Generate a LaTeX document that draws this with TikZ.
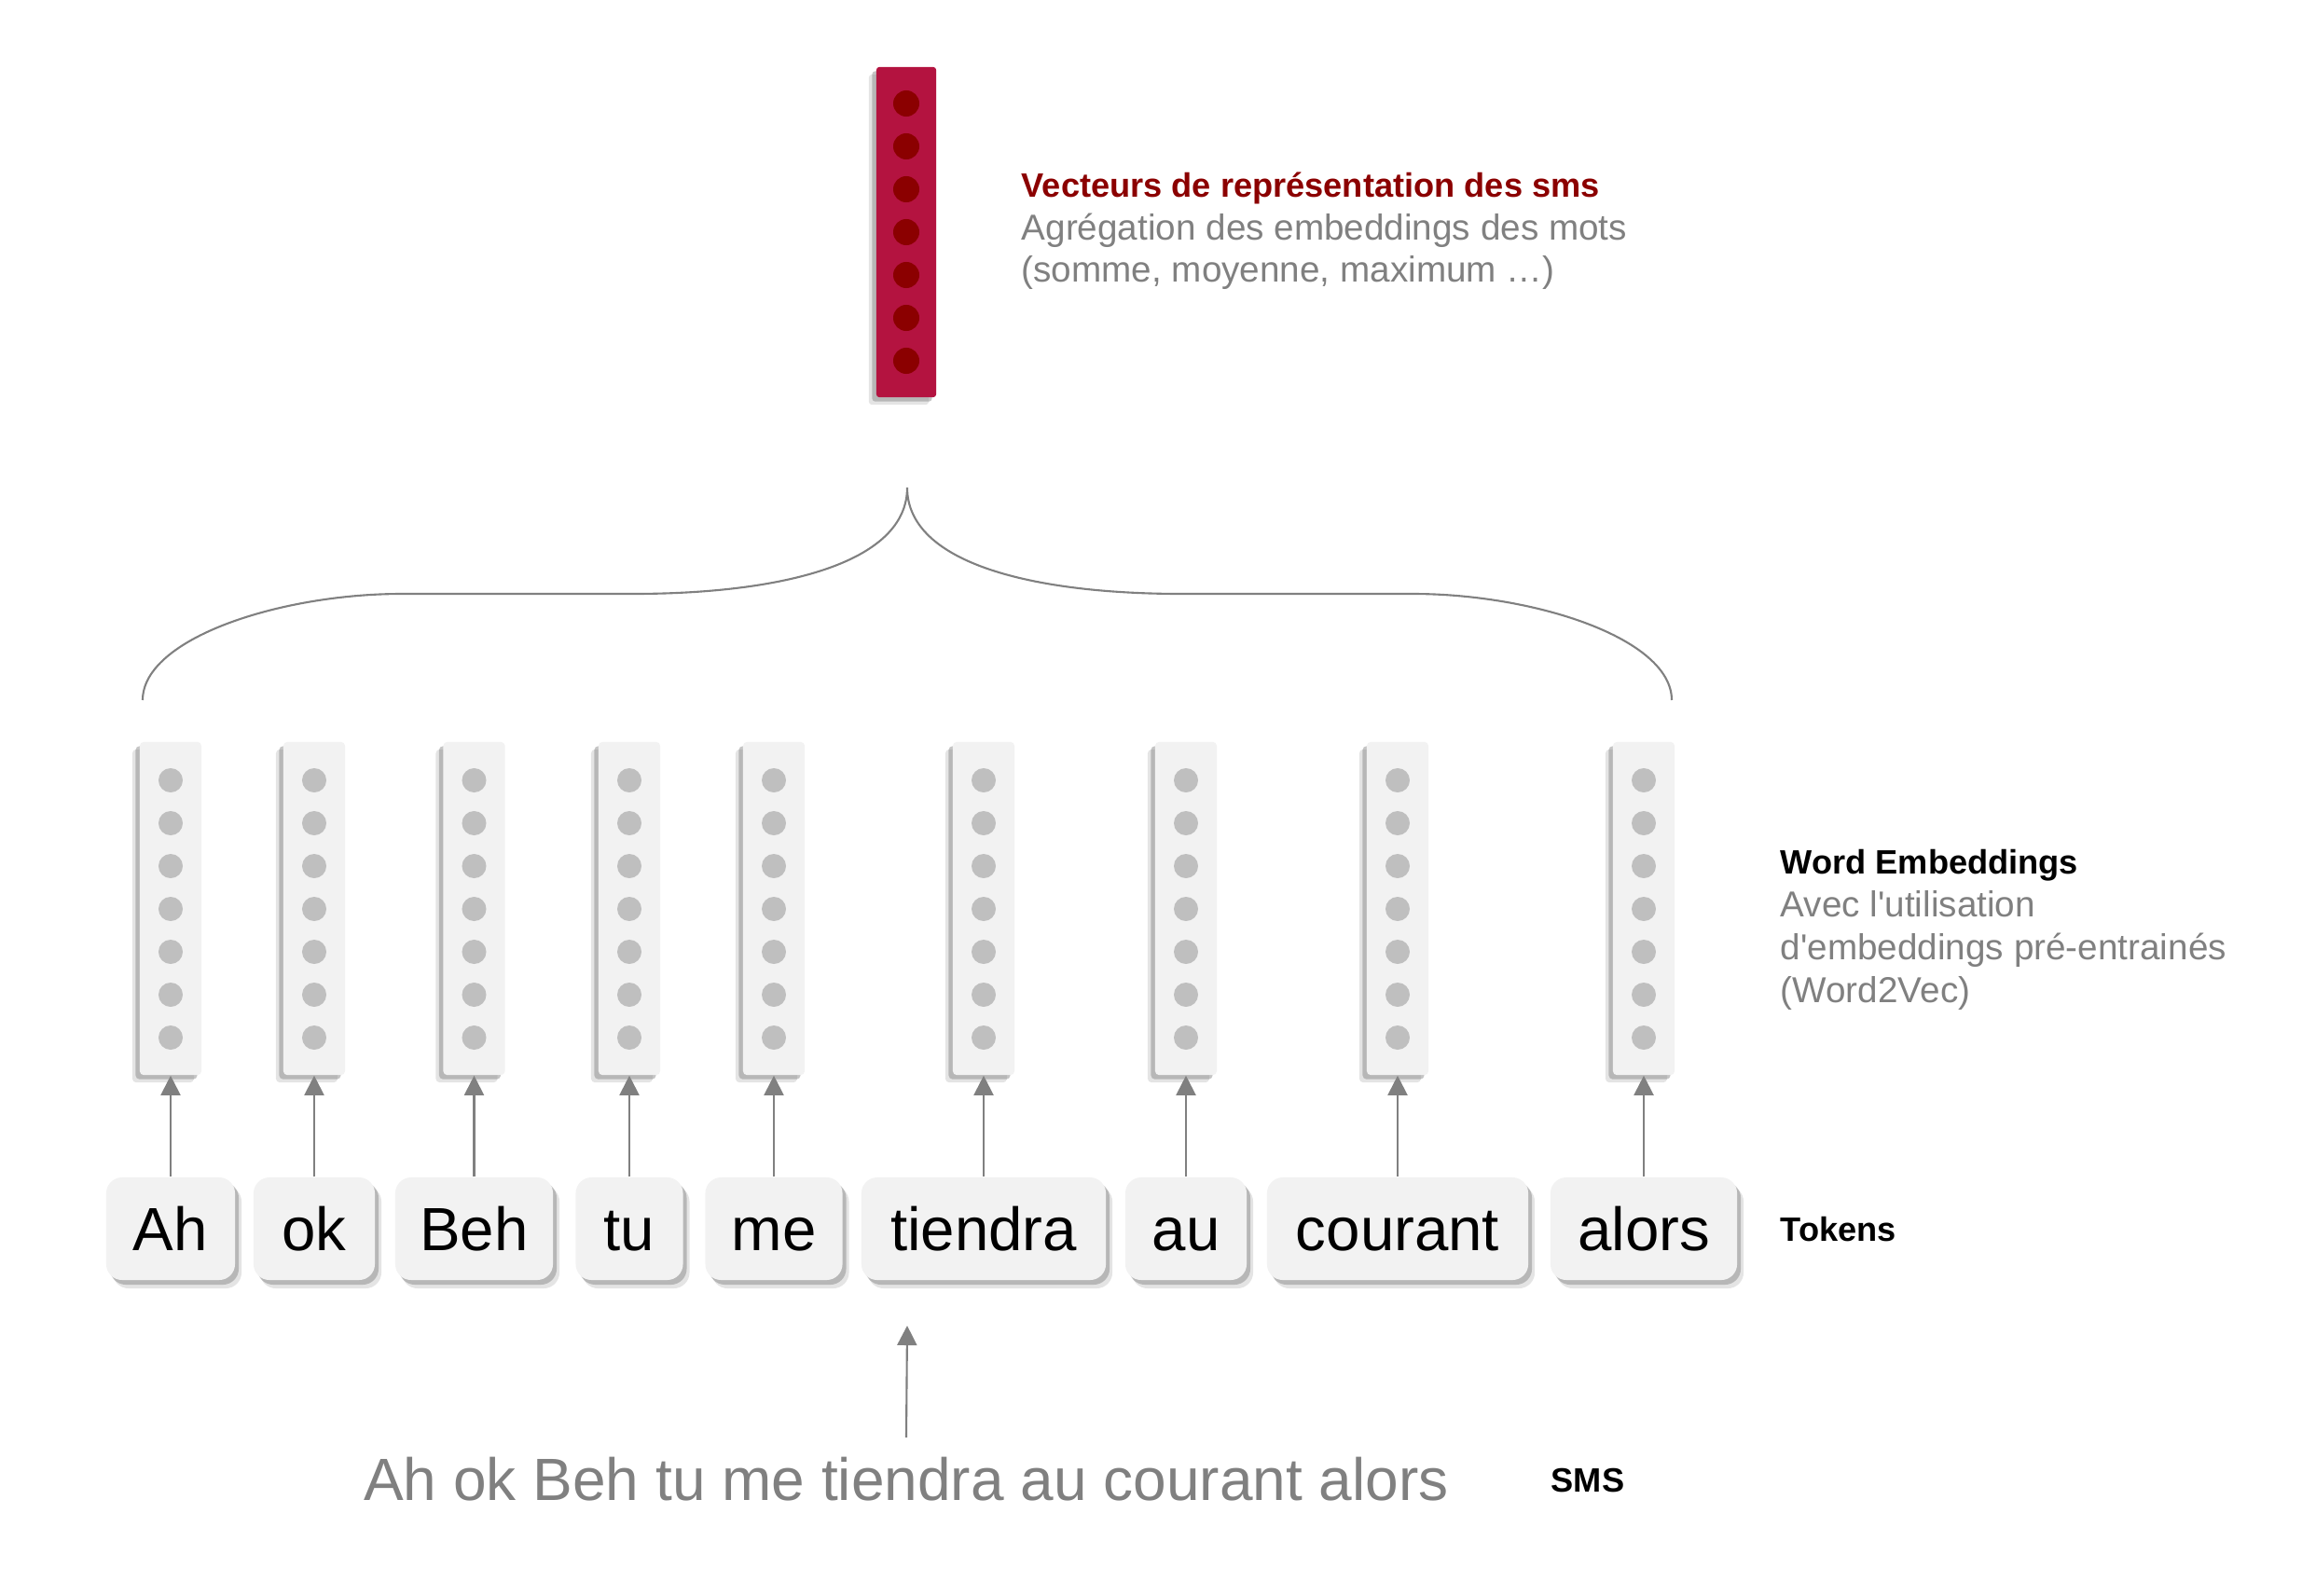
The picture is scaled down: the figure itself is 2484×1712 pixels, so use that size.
\documentclass[tikz,border=0pt]{standalone}
\usepackage{fontspec}
\setmainfont{Liberation Sans}
\usetikzlibrary{arrows.meta,shadows}
\definecolor{barred}{RGB}{180,19,64}
\definecolor{dotred}{RGB}{139,0,0}
\definecolor{boxgrey}{RGB}{242,242,242}
\definecolor{dotgrey}{RGB}{191,191,191}
\definecolor{txtgrey}{RGB}{128,128,128}

\begin{document}
\begin{tikzpicture}[x=0.01cm,y=-0.01cm,
    token/.style={fill=boxgrey,rounded corners=0.17cm,minimum height=1.1cm,inner sep=0pt,
        text height=0.47cm,text depth=0pt,font=\fontsize{18.6}{22}\selectfont,
        drop shadow={shadow xshift=0.07cm,shadow yshift=-0.09cm,fill=black!30,opacity=.35},
        drop shadow={shadow xshift=0.04cm,shadow yshift=-0.05cm,fill=black!45,opacity=.5}},
    vect/.style={fill=boxgrey,rounded corners=0.04cm,minimum width=0.66cm,minimum height=3.57cm,inner sep=0pt,
        drop shadow={shadow xshift=-0.08cm,shadow yshift=-0.08cm,fill=black!30,opacity=.35},
        drop shadow={shadow xshift=-0.045cm,shadow yshift=-0.045cm,fill=black!45,opacity=.5}},
    redvect/.style={fill=barred,rounded corners=0.03cm,minimum width=0.64cm,minimum height=3.54cm,inner sep=0pt,
        drop shadow={shadow xshift=-0.08cm,shadow yshift=-0.08cm,fill=black!30,opacity=.35},
        drop shadow={shadow xshift=-0.045cm,shadow yshift=-0.045cm,fill=black!45,opacity=.5}},
    conn/.style={draw=txtgrey,line width=0.6pt,-{Triangle[width=0.21cm,length=0.21cm]}},
    head/.style={anchor=base west,inner sep=0pt,font=\fontsize{10.3}{12}\selectfont\bfseries},
    desc/.style={anchor=base west,inner sep=0pt,text=txtgrey,font=\fontsize{11}{13}\selectfont}]
    \useasboundingbox (0,0) rectangle (2484,1712);

    % sms vector
    \node[redvect] (agg) at (972,249) {};
    \foreach \k in {0,...,6}
        \fill[dotred] (972,111+46*\k) circle (0.14cm);
    \node[head,text=dotred] (agghead) at (1095,211) {Vecteurs de représentation des sms};
    \node[desc] (aggdesc1) at (1095,257) {Agrégation des embeddings des mots};
    \node[desc] (aggdesc2) at (1095,302) {(somme, moyenne, maximum …)};

    % brace
    \draw[txtgrey,line width=0.6pt] (153,751) .. controls (153,685) and (300,637) .. (431,637) -- (679,637)
        .. controls (836,637) and (973,605) .. (973,523)
        .. controls (973,605) and (1110,637) .. (1267,637) -- (1515,637)
        .. controls (1646,637) and (1793,685) .. (1793,751);

    % tokens and word embeddings
    \foreach \i/\x/\w/\word in {1/183/1.38/Ah, 2/337/1.30/ok, 3/508.5/1.69/Beh, 4/675/1.15/tu, 5/830/1.47/me,
            6/1055/2.62/tiendra, 7/1272/1.30/au, 8/1499/2.80/courant, 9/1763/2.00/alors} {
        \node[token,minimum width=\w cm] (t\i) at (\x,1318) {\word};
        \node[vect] (v\i) at (\x,974.5) {};
        \foreach \k in {0,...,6}
            \fill[dotgrey] (\x,837+46*\k) circle (0.13cm);
        \draw[conn] (t\i.north) -- (v\i.south);
    }

    \node[head] (wehead) at (1909,937) {Word Embeddings};
    \node[desc] (wedesc1) at (1909,983) {Avec l\textquotesingle utilisation};
    \node[desc] (wedesc2) at (1909,1029) {d\textquotesingle embeddings pré-entrainés};
    \node[desc] (wedesc3) at (1909,1075) {(Word2Vec)};
    \node[head] (tokhead) at (1909,1331) {Tokens};

    % sms
    \node[anchor=base,inner sep=0pt,text=txtgrey,font=\fontsize{18.2}{22}\selectfont] (sms) at (972,1609)
        {Ah ok Beh tu me tiendra au courant alors};
    \node[head] (smshead) at (1663,1600) {SMS};
    \coordinate (smstip) at (973,1422);
    \draw[conn] ([yshift=0.2cm]sms.north) -- (smstip);
\end{tikzpicture}
\end{document}
